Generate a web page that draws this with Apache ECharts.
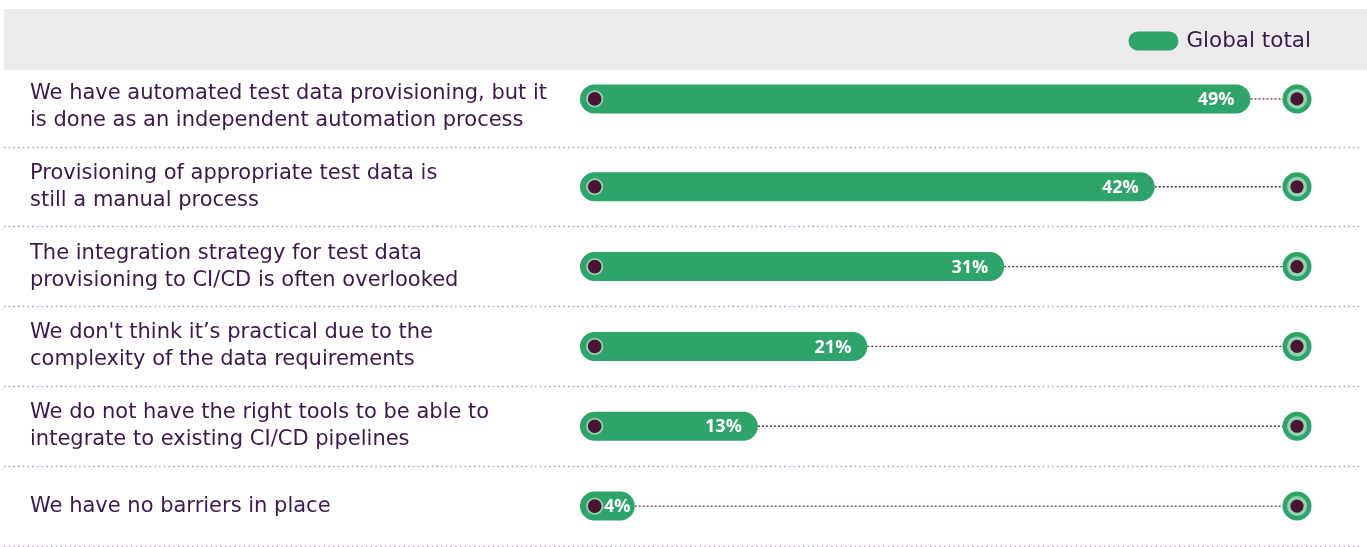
<!DOCTYPE html>
<html><head><meta charset="utf-8">
<script src="https://cdn.jsdelivr.net/npm/echarts@6/dist/echarts.min.js"></script>
<style>html,body{margin:0;padding:0;background:#fff}#c{width:1367px;height:547px}</style>
</head><body><div id="c"></div>
<script>
const categories = [
  "We have automated test data provisioning, but it\nis done as an independent automation process",
  "Provisioning of appropriate test data is\nstill a manual process",
  "The integration strategy for test data\nprovisioning to CI/CD is often overlooked",
  "We don't think it\u2019s practical due to the\ncomplexity of the data requirements",
  "We do not have the right tools to be able to\nintegrate to existing CI/CD pipelines",
  "We have no barriers in place"
];
const globalTotal = [49, 42, 31, 21, 13, 4];
const seriesName = "Global total";
const axisMax = 52.4;

const GREEN = '#2ea46b';
const RING = '#92d3ac';
const DARK = '#4a1535';
const TEXT = '#3b1a4b';
const FONT = '"DejaVu Sans", "Open Sans", sans-serif';
const BFONT = '"Open Sans", "Noto Sans", sans-serif';

function renderItem(params, api) {
  const idx = api.value(1);
  const v = api.value(0);
  const p0 = api.coord([0, idx]);
  const p1 = api.coord([v, idx]);
  const pe = api.coord([axisMax, idx]);
  const y = p0[1] + (idx === 0 ? -8 : 0);
  const h = 29, r = 14.5;
  const w = p1[0] - p0[0];
  const inside = w > 70;
  return {
    type: 'group',
    children: [
      { type: 'line', shape: { x1: p1[0], y1: y, x2: pe[0] - 13, y2: y },
        style: { stroke: '#5e2d48', lineWidth: 1.3, lineDash: [2, 2] } },
      { type: 'rect', shape: { x: p0[0], y: y - h / 2, width: w, height: h, r: r },
        style: { fill: GREEN } },
      { type: 'circle', shape: { cx: p0[0] + 14.7, cy: y, r: 8.6 }, style: { fill: RING } },
      { type: 'circle', shape: { cx: p0[0] + 14.7, cy: y, r: 6.8 }, style: { fill: DARK } },
      { type: 'circle', shape: { cx: pe[0], cy: y, r: 14.5 }, style: { fill: GREEN } },
      { type: 'circle', shape: { cx: pe[0], cy: y, r: 10 }, style: { fill: RING } },
      { type: 'circle', shape: { cx: pe[0], cy: y, r: 6.6 }, style: { fill: DARK } },
      { type: 'text', style: {
          text: v + '%', x: inside ? p1[0] - 16 : p0[0] + 24, y: y + 1,
          align: inside ? 'right' : 'left', verticalAlign: 'middle',
          fill: '#ffffff', font: 'bold 18px ' + BFONT } }
    ]
  };
}

const chart = echarts.init(document.getElementById('c'), null, { renderer: 'canvas' });
chart.setOption({
  animation: false,
  backgroundColor: '#ffffff',
  graphic: [
    { type: 'rect', left: 4, top: 9, z: 1, silent: true,
      shape: { width: 1363, height: 61 }, style: { fill: '#ebebeb' } }
  ],
  legend: {
    data: [seriesName], right: 51, top: 25, z: 10,
    itemWidth: 50, itemHeight: 19,
    icon: 'path://M9.5,0 H40.5 A9.5,9.5 0 0 1 40.5,19 H9.5 A9.5,9.5 0 0 1 9.5,0 Z',
    textStyle: { fontSize: 21.5, color: TEXT, fontFamily: FONT, padding: [0, 0, 0, 3] }
  },
  grid: [
    { left: 4, right: 5, top: 67, bottom: 1 },
    { left: 580, right: 70, top: 67, bottom: 1 }
  ],
  xAxis: [
    { gridIndex: 0, type: 'value', min: 0, max: 1, show: false },
    { gridIndex: 1, type: 'value', min: 0, max: axisMax, show: false }
  ],
  yAxis: [
    { gridIndex: 0, type: 'category', inverse: true, data: categories,
      axisLine: { show: false }, axisTick: { show: false },
      splitLine: { show: true, lineStyle: { color: '#ad9ac6', width: 1.4, type: [1.5, 3.2] } },
      axisLabel: { inside: true, margin: 26, align: 'left', color: TEXT,
        fontSize: 21, lineHeight: 27, fontFamily: FONT } },
    { gridIndex: 1, type: 'category', inverse: true, data: categories, show: false }
  ],
  series: [{
    name: seriesName, type: 'custom', coordinateSystem: 'cartesian2d',
    xAxisIndex: 1, yAxisIndex: 1, itemStyle: { color: GREEN },
    encode: { x: 0, y: 1 },
    renderItem: renderItem,
    data: globalTotal.map((v, i) => [v, i])
  }]
});
</script></body></html>
